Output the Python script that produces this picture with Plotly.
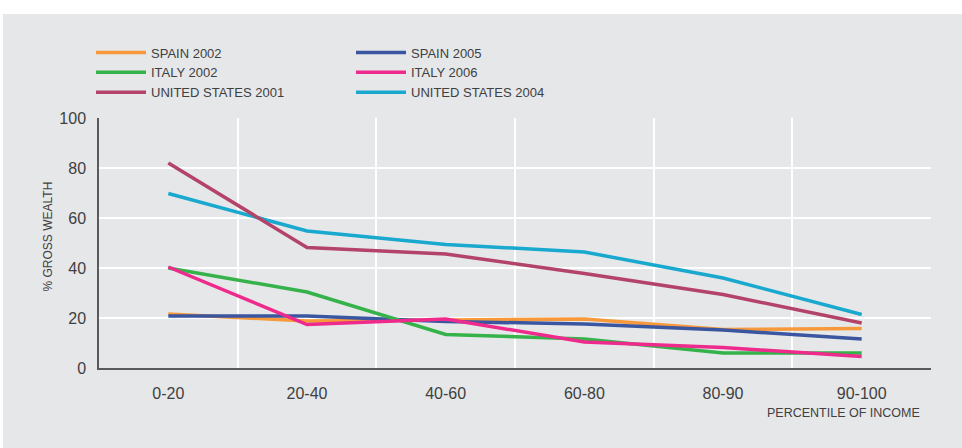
import plotly.graph_objects as go

categories = ["0-20", "20-40", "40-60", "60-80", "80-90", "90-100"]
spain_2002 = [21.6, 18.8, 19.2, 19.6, 15.4, 15.8]
spain_2005 = [20.8, 20.8, 18.6, 17.6, 15.2, 11.6]
italy_2002 = [40.0, 30.4, 13.4, 11.6, 6.0, 6.0]
italy_2006 = [40.4, 17.4, 19.6, 10.4, 8.2, 4.6]
us_2001 = [82.0, 48.2, 45.6, 37.8, 29.4, 18.0]
us_2004 = [69.8, 54.8, 49.4, 46.4, 36.0, 21.4]

series = [
    ("SPAIN 2002", spain_2002, "#F7993B", "legend", 1),
    ("SPAIN 2005", spain_2005, "#3B56A0", "legend2", 1),
    ("ITALY 2002", italy_2002, "#36B24A", "legend", 2),
    ("ITALY 2006", italy_2006, "#EE2A8C", "legend2", 2),
    ("UNITED STATES 2004", us_2004, "#19A8CE", "legend2", 3),
    ("UNITED STATES 2001", us_2001, "#B4436A", "legend", 3),
]

FONT = "Liberation Sans"
TXT = "#404040"
BG = "#E6E7E9"

fig = go.Figure()
for name, vals, color, leg, rank in series:
    fig.add_trace(go.Scatter(
        x=categories, y=vals, name=name, mode="lines",
        line=dict(color=color, width=3.5),
        legend=leg, legendrank=rank,
    ))

L, R, T, B = 99, 31, 118, 80
W, H = 962, 448
pw, ph = W - L - R, H - T - B

def px(xp):
    return (xp - L) / pw

def py(yp):
    return (H - B - yp) / ph

fig.update_layout(
    width=W, height=H,
    margin=dict(l=L, r=R, t=T, b=B, pad=0),
    paper_bgcolor="white",
    plot_bgcolor=BG,
    font=dict(family=FONT, color=TXT),
    shapes=[dict(type="rect", xref="paper", yref="paper",
                 x0=px(3), x1=px(W + 5), y0=py(H + 5), y1=py(14),
                 fillcolor=BG, line=dict(width=0), layer="below")],
    legend=dict(x=px(91), y=py(37.5), xanchor="left", yanchor="top",
                bgcolor="rgba(0,0,0,0)", itemwidth=50,
                font=dict(size=13, color=TXT, family=FONT),
                traceorder="normal"),
    legend2=dict(x=px(351), y=py(37.5), xanchor="left", yanchor="top",
                 bgcolor="rgba(0,0,0,0)", itemwidth=50,
                 font=dict(size=13, color=TXT, family=FONT),
                 traceorder="normal"),
    xaxis=dict(
        type="category", range=[-0.5, 5.5], tickson="boundaries",
        showgrid=True, gridcolor="white", gridwidth=2,
        showline=True, linecolor="#5a5a5a", linewidth=1.5,
        ticks="", ticklabelstandoff=10,
        tickfont=dict(size=16, color=TXT, family=FONT),
        zeroline=False, fixedrange=True,
    ),
    yaxis=dict(
        range=[0, 100], tickvals=[0, 20, 40, 60, 80, 100],
        showgrid=True, gridcolor="white", gridwidth=2,
        showline=True, linecolor="#5a5a5a", linewidth=1.5,
        ticks="", ticklabelstandoff=8,
        tickfont=dict(size=16, color=TXT, family=FONT),
        zeroline=False, fixedrange=True,
    ),
    annotations=[
        dict(text="% GROSS WEALTH", xref="paper", yref="paper",
             x=px(47), y=py(236.5), textangle=-90, showarrow=False,
             xanchor="center", yanchor="middle",
             font=dict(size=12, color=TXT, family=FONT)),
        dict(text="PERCENTILE OF INCOME", xref="paper", yref="paper",
             x=px(922), y=py(413), showarrow=False,
             xanchor="right", yanchor="middle",
             font=dict(size=12.5, color=TXT, family=FONT)),
    ],
)

fig.write_html("out.html", config={"displayModeBar": False},
               post_script="document.body.style.margin='0';")
